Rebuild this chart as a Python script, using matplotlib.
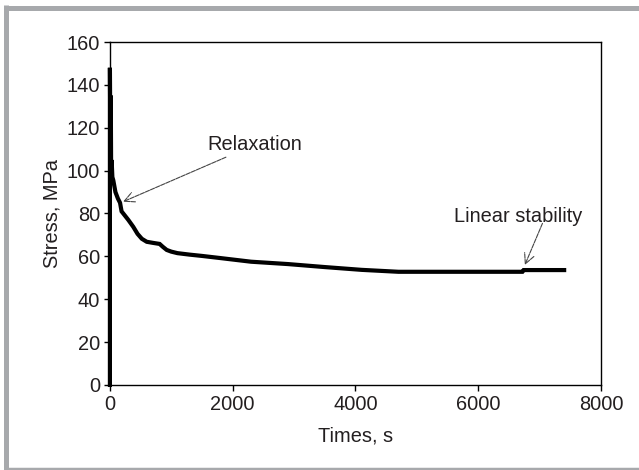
import numpy as np
import matplotlib.pyplot as plt
from matplotlib.lines import Line2D

# Data #
time_s = [0, 0, 8, 14, 20, 28, 40, 55, 90, 130, 165, 190, 245, 300, 380, 450,
          520, 600, 700, 810, 860, 925, 1000, 1100, 1300, 1500, 1800, 2300,
          2900, 3500, 4100, 4700, 5500, 6200, 6720, 6740, 7400]
stress = [0, 148, 110, 135, 100, 105, 97, 95.5, 90, 87, 85, 81, 79, 77, 73.8,
          70.5, 68.2, 66.8, 66.3, 65.8, 64.5, 63, 62.2, 61.5, 60.8, 60.2, 59.2,
          57.5, 56.4, 55, 53.7, 52.8, 52.8, 52.8, 52.8, 53.6, 53.6]

x_ticks = [0, 2000, 4000, 6000, 8000]
y_ticks = [0, 20, 40, 60, 80, 100, 120, 140, 160]

txt_col = '#231f20'
plt.rcParams['font.family'] = ['Liberation Sans', 'DejaVu Sans']

fig = plt.figure(figsize=(6.39, 4.70), dpi=100)
ax = fig.add_axes([0.172, 0.181, 0.7685, 0.7295])

ax.plot(time_s, stress, c='k', lw=3, solid_joinstyle='miter', clip_on=False)

ax.set_xlim(0, 8000)
ax.set_ylim(0, 160)
ax.set_xticks(x_ticks)
ax.set_yticks(y_ticks)
ax.tick_params(direction='out', length=4, width=1, labelsize=14.4,
               colors='k', labelcolor=txt_col, pad=3)
for sp in ax.spines.values():
    sp.set_linewidth(1)

ax.set_xlabel('Times, s', fontsize=14.4, color=txt_col, labelpad=9)
ax.set_ylabel('Stress, MPa', fontsize=14.4, color=txt_col, labelpad=4)

# Annotations #
ax.annotate('Relaxation', xy=(215, 85.5), xytext=(1580, 112),
            fontsize=14.4, color=txt_col, ha='left', va='center',
            arrowprops=dict(arrowstyle='->', color='#444444', lw=0.8,
                            shrinkA=0, shrinkB=0, mutation_scale=18,
                            linestyle=(0, (4, 1))),
            annotation_clip=False)
ax.annotate('', xy=(6760, 56), xytext=(7047, 75.4),
            arrowprops=dict(arrowstyle='->', color='#444444', lw=0.8,
                            shrinkA=0, shrinkB=0, mutation_scale=18,
                            linestyle=(0, (4, 1))))
ax.text(7687, 78.4, 'Linear stability', fontsize=14.4, color=txt_col,
        ha='right', va='center')

# Gray frame round the figure #
frame_col = '#a7a9ac'
fig.add_artist(Line2D([4 / 639, 1], [1 - 7.5 / 470] * 2, color=frame_col,
                      lw=3.6, transform=fig.transFigure, solid_capstyle='butt'))
fig.add_artist(Line2D([5.8 / 639] * 2, [1 - 5 / 470, 0], color=frame_col,
                      lw=3.6, transform=fig.transFigure, solid_capstyle='butt'))
fig.add_artist(Line2D([4 / 639, 1], [1.5 / 470] * 2, color=frame_col,
                      lw=2.5, transform=fig.transFigure, solid_capstyle='butt'))

fig.savefig('out.png', dpi=100)
